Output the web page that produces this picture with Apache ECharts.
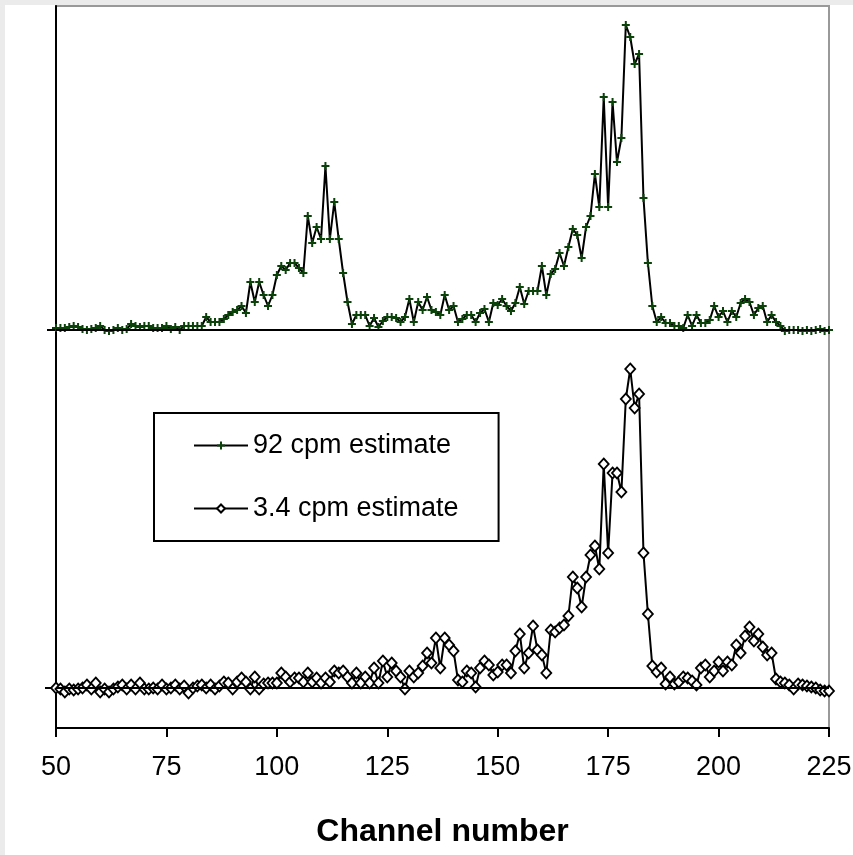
<!DOCTYPE html>
<html>
<head>
<meta charset="utf-8">
<script src="https://cdn.jsdelivr.net/npm/echarts@6/dist/echarts.min.js"></script>
<style>
html,body{margin:0;padding:0;background:#ebebeb;}
#chart{position:absolute;left:5px;top:5px;width:848px;height:850px;background:#ffffff;}
</style>
</head>
<body>
<div id="chart"></div>
<script>
// Channel of the first point; one point per channel
const firstChannel = 50;

// 92 cpm estimate (arbitrary units), channels 50..225
const top92 = [
  2, 2, 2, 3, 4, 3, 1, 0, 1, 2,
  4, 0, -1, 0, 2, 0, 1, 6, 4, 3,
  4, 4, 2, 2, 2, 4, 1, 3, 0, 4,
  4, 4, 4, 4, 13, 8, 8, 8, 11, 15,
  18, 20, 24, 17, 48, 28, 48, 35, 24, 35,
  55, 64, 60, 67, 67, 62, 57, 114, 87, 103,
  91, 164, 91, 128, 91, 57, 28, 6, 15, 15,
  15, 4, 12, 3, 9, 13, 13, 12, 8, 13,
  31, 8, 28, 20, 33, 20, 18, 15, 35, 20,
  24, 8, 11, 15, 15, 8, 17, 21, 8, 27,
  25, 31, 24, 19, 27, 43, 26, 39, 39, 39,
  64, 35, 56, 61, 77, 64, 83, 101, 95, 72,
  103, 114, 156, 123, 233, 123, 228, 168, 192, 305,
  293, 266, 276, 132, 67, 24, 8, 13, 7, 7,
  4, 4, 2, 15, 4, 15, 7, 7, 10, 24,
  13, 19, 8, 19, 13, 27, 31, 28, 15, 22,
  24, 8, 15, 8, 4, -1, 0, 0, 0, -1,
  0, -1, 0, 1, -1, 0
];

// 3.4 cpm estimate (arbitrary units), channels 50..225
const low34 = [
  0, -1, -4, -1, -2, -1, 0, 3, -1, 5,
  -4, -1, -4, -1, 1, 3, -1, 3, -1, 5,
  -1, -1, 0, -1, 3, -1, 0, 3, -1, 2,
  -5, 0, 2, 3, 0, 3, -1, 2, 6, 5,
  -1, 6, 10, 6, -1, 11, -1, 4, 5, 5,
  5, 15, 11, 6, 10, 10, 6, 15, 6, 10,
  5, 10, 6, 17, 15, 17, 11, 5, 15, 5,
  11, 5, 20, 5, 27, 11, 25, 17, 11, -1,
  17, 11, 15, 22, 35, 25, 50, 20, 50, 43,
  37, 8, 6, 17, 15, 1, 20, 27, 23, 13,
  16, 23, 23, 15, 37, 54, 20, 35, 62, 38,
  33, 15, 58, 56, 60, 63, 72, 111, 100, 81,
  111, 133, 142, 119, 224, 135, 215, 215, 196, 289,
  319, 280, 294, 135, 74, 22, 16, 20, 4, 11,
  4, 6, 11, 10, 7, 3, 20, 23, 11, 17,
  26, 17, 26, 23, 43, 35, 52, 61, 47, 54,
  41, 33, 35, 9, 6, 5, 3, -1, 4, 3,
  2, 1, 0, -2, -3, -3
];

// X tick labels
const xTickLabels = [50, 75, 100, 125, 150, 175, 200, 225];
const seriesNames = ['92 cpm estimate', '3.4 cpm estimate'];
const xTitle = 'Channel number';

const channels = top92.map((_, i) => firstChannel + i);
const topData = channels.map((c, i) => [c, top92[i]]);
const lowData = channels.map((c, i) => [c, low34[i]]);

const FONT = "'Liberation Sans', Arial, sans-serif";
const plusPath = 'path://M3,0H5V3H8V5H5V8H3V5H0V3H3Z';

const chart = echarts.init(document.getElementById('chart'), null, {renderer: 'canvas'});

const baseline = {
  silent: true,
  symbol: ['none', 'none'],
  label: {show: false},
  emphasis: {disabled: true},
  lineStyle: {color: '#000', width: 2, type: 'solid'},
  data: [{yAxis: 0}]
};

chart.setOption({
  animation: false,
  backgroundColor: '#ffffff',
  grid: {
    left: 51, right: 24, top: 1, bottom: 127,
    containLabel: false,
    outerBoundsMode: 'none',
    show: true,
    backgroundColor: '#ffffff',
    borderColor: '#999999',
    borderWidth: 2
  },
  legend: {
    orient: 'vertical',
    left: 149, top: 408,
    padding: [19, 40, 19, 39],
    itemGap: 36,
    itemWidth: 54,
    itemHeight: 10,
    backgroundColor: '#ffffff',
    borderColor: '#000000',
    borderWidth: 2,
    borderRadius: 0,
    selectedMode: false,
    textStyle: {fontSize: 27, lineHeight: 27, color: '#000', fontFamily: FONT},
    data: seriesNames
  },
  xAxis: {
    type: 'value',
    min: xTickLabels[0],
    max: xTickLabels[xTickLabels.length - 1],
    interval: xTickLabels[1] - xTickLabels[0],
    name: xTitle,
    nameLocation: 'middle',
    nameGap: 88,
    nameTextStyle: {fontSize: 32, fontWeight: 'bold', color: '#000', fontFamily: FONT},
    axisLine: {show: true, onZero: false, lineStyle: {color: '#000', width: 2}},
    axisTick: {show: true, inside: false, length: 9, lineStyle: {color: '#000', width: 2}},
    axisLabel: {show: true, margin: 26, fontSize: 27, color: '#000', fontFamily: FONT, hideOverlap: false},
    splitLine: {show: false}
  },
  yAxis: [
    {
      type: 'value', min: -40, max: 682, position: 'left',
      axisLine: {show: true, onZero: false, lineStyle: {color: '#000', width: 2}},
      axisTick: {show: true, customValues: [0], length: 11, lineStyle: {color: '#000', width: 2}},
      axisLabel: {show: false},
      splitLine: {show: false}
    },
    {
      type: 'value', min: -398, max: 324, position: 'left', offset: 0,
      axisLine: {show: false, onZero: false},
      axisTick: {show: true, customValues: [0], length: 9, lineStyle: {color: '#000', width: 2}},
      axisLabel: {show: false},
      splitLine: {show: false}
    }
  ],
  series: [
    {
      name: seriesNames[0],
      type: 'line',
      yAxisIndex: 1,
      data: topData,
      symbol: plusPath,
      symbolSize: 8,
      showAllSymbol: true,
      itemStyle: {color: '#0a420a'},
      lineStyle: {color: '#000', width: 2},
      emphasis: {disabled: true},
      markLine: baseline,
      z: 3
    },
    {
      name: seriesNames[1],
      type: 'line',
      yAxisIndex: 0,
      data: lowData,
      symbol: 'diamond',
      symbolSize: [10, 11],
      showAllSymbol: true,
      itemStyle: {color: '#ffffff', borderColor: '#000', borderWidth: 1.8},
      lineStyle: {color: '#000', width: 2},
      emphasis: {disabled: true},
      markLine: baseline,
      z: 2
    }
  ]
});
</script>
</body>
</html>
